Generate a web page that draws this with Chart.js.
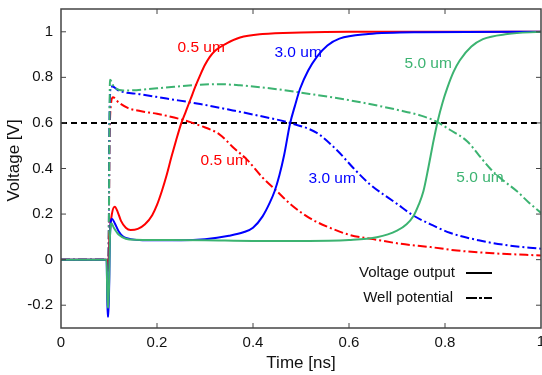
<!DOCTYPE html>
<html>
<head>
<meta charset="utf-8">
<script src="https://cdn.jsdelivr.net/npm/chart.js@4.4.1/dist/chart.umd.min.js"></script>
<style>
  html, body { margin: 0; padding: 0; background: #fff; }
  #wrap { width: 542px; height: 375px; position: relative; }
</style>
</head>
<body>
<div id="wrap"><canvas id="voltage-chart" width="542" height="375"></canvas></div>
<script>
// values, [time ns, voltage V]
var outputHalf = [[0, 0], [0.095, 0], [0.098, -0.05], [0.101, 0.1], [0.106, 0.2], [0.112, 0.232], [0.118, 0.21], [0.125, 0.17], [0.135, 0.14], [0.145, 0.13], [0.16, 0.135], [0.175, 0.155], [0.19, 0.195], [0.2, 0.24], [0.21, 0.3], [0.22, 0.37], [0.23, 0.45], [0.24, 0.525], [0.25, 0.595], [0.26, 0.65], [0.27, 0.705], [0.28, 0.76], [0.29, 0.81], [0.3, 0.855], [0.31, 0.89], [0.32, 0.915], [0.346, 0.95], [0.373, 0.975], [0.42, 0.99], [0.5, 0.997], [0.6, 1.0], [0.8, 1.0], [1.0, 1.0]];
var outputThree = [[0, 0], [0.095, 0], [0.097, -0.25], [0.099, -0.25], [0.102, 0.1], [0.106, 0.18], [0.112, 0.16], [0.12, 0.125], [0.13, 0.1], [0.145, 0.09], [0.17, 0.085], [0.25, 0.085], [0.3, 0.09], [0.35, 0.105], [0.38, 0.12], [0.4, 0.14], [0.42, 0.19], [0.435, 0.25], [0.445, 0.3], [0.455, 0.37], [0.465, 0.46], [0.477, 0.595], [0.488, 0.68], [0.498, 0.75], [0.515, 0.83], [0.533, 0.89], [0.555, 0.94], [0.58, 0.97], [0.64, 0.99], [0.75, 0.998], [1.0, 1.0]];
var outputFive = [[0, 0], [0.095, 0], [0.097, -0.21], [0.099, -0.21], [0.102, 0.1], [0.105, 0.16], [0.11, 0.14], [0.12, 0.11], [0.135, 0.092], [0.155, 0.087], [0.2, 0.086], [0.3, 0.085], [0.4, 0.082], [0.5, 0.082], [0.6, 0.086], [0.658, 0.098], [0.7, 0.127], [0.72, 0.155], [0.734, 0.19], [0.745, 0.24], [0.755, 0.3], [0.765, 0.4], [0.775, 0.51], [0.785, 0.61], [0.795, 0.69], [0.805, 0.755], [0.818, 0.825], [0.831, 0.875], [0.855, 0.935], [0.879, 0.968], [0.93, 0.99], [1.0, 1.0]];
var wellHalf = [[0, 0], [0.099, 0], [0.101, 0.5], [0.104, 0.68], [0.108, 0.713], [0.12, 0.69], [0.14, 0.665], [0.165, 0.652], [0.2, 0.64], [0.248, 0.617], [0.29, 0.588], [0.33, 0.55], [0.36, 0.49], [0.387, 0.44], [0.42, 0.36], [0.45, 0.3], [0.48, 0.24], [0.52, 0.18], [0.56, 0.14], [0.602, 0.108], [0.65, 0.09], [0.706, 0.07], [0.77, 0.055], [0.825, 0.04], [0.9, 0.028], [1.0, 0.018]];
var wellThree = [[0, 0], [0.099, 0], [0.101, 0.6], [0.104, 0.76], [0.107, 0.76], [0.12, 0.742], [0.165, 0.726], [0.22, 0.707], [0.29, 0.683], [0.358, 0.655], [0.42, 0.628], [0.477, 0.6], [0.533, 0.556], [0.575, 0.48], [0.61, 0.4], [0.644, 0.33], [0.7, 0.245], [0.733, 0.195], [0.77, 0.155], [0.81, 0.118], [0.87, 0.085], [0.93, 0.063], [1.0, 0.048]];
var wellFive = [[0, 0], [0.099, 0], [0.101, 0.6], [0.102, 0.79], [0.11, 0.76], [0.13, 0.742], [0.2, 0.752], [0.29, 0.768], [0.33, 0.77], [0.373, 0.765], [0.45, 0.748], [0.5, 0.733], [0.6, 0.7], [0.706, 0.655], [0.75, 0.632], [0.783, 0.605], [0.81, 0.57], [0.846, 0.52], [0.87, 0.46], [0.894, 0.4], [0.92, 0.35], [0.95, 0.3], [0.975, 0.25], [1.0, 0.205]];
var thresholdLine = [[0, 0.6], [1, 0.6]];

var xTickValues = [0, 0.2, 0.4, 0.6, 0.8, 1];
var yTickValues = [-0.2, 0, 0.2, 0.4, 0.6, 0.8, 1];

// curve labels: text, time, voltage, colour
var curveLabels = [
  ['0.5 um', 0.292, 0.932, '#ff0000'],
  ['3.0 um', 0.494, 0.906, '#0000ff'],
  ['5.0 um', 0.765, 0.858, '#3cb371'],
  ['0.5 um', 0.34, 0.433, '#ff0000'],
  ['3.0 um', 0.565, 0.354, '#0000ff'],
  ['5.0 um', 0.873, 0.359, '#3cb371']
];

var RED = '#ff0000';
var BLUE = '#0000ff';
var GREEN = '#3cb371';
var DASHDOT = [9, 3, 2, 3];
var FONT = '"Liberation Sans", Arial, sans-serif';

function toPoints(pairs) {
  return pairs.map(function (p) { return { x: p[0], y: p[1] }; });
}

function makeSet(pairs, color, dash) {
  return {
    data: toPoints(pairs),
    borderColor: color,
    borderWidth: 2,
    borderDash: dash || [],
    pointRadius: 0,
    fill: false,
    cubicInterpolationMode: 'monotone'
  };
}

// frame with inward ticks, labels on curves, legend and axis titles
var decorPlugin = {
  id: 'decor',
  afterDatasetsDraw: function (chart) {
    var ctx = chart.ctx;
    var a = chart.chartArea;
    var xs = chart.scales.x;
    var ys = chart.scales.y;
    ctx.save();
    ctx.strokeStyle = '#444';
    ctx.lineWidth = 1.5;
    ctx.setLineDash([]);
    ctx.strokeRect(a.left, a.top, a.right - a.left, a.bottom - a.top);
    ctx.lineWidth = 1;
    ctx.beginPath();
    for (var i = 1; i < xTickValues.length - 1; i++) {
      var px = xs.getPixelForValue(xTickValues[i]);
      ctx.moveTo(px, a.bottom); ctx.lineTo(px, a.bottom - 5);
      ctx.moveTo(px, a.top); ctx.lineTo(px, a.top + 5);
    }
    for (var j = 0; j < yTickValues.length; j++) {
      var py = ys.getPixelForValue(yTickValues[j]);
      ctx.moveTo(a.left, py); ctx.lineTo(a.left + 5, py);
      ctx.moveTo(a.right, py); ctx.lineTo(a.right - 5, py);
    }
    ctx.stroke();

    ctx.font = '15.5px ' + FONT;
    ctx.textAlign = 'center';
    ctx.textBaseline = 'middle';
    curveLabels.forEach(function (l) {
      ctx.fillStyle = l[3];
      ctx.fillText(l[0], xs.getPixelForValue(l[1]), ys.getPixelForValue(l[2]));
    });

    // legend
    ctx.fillStyle = '#111';
    ctx.textAlign = 'right';
    ctx.font = '15px ' + FONT;
    ctx.fillText('Voltage output', 455, 273);
    ctx.fillText('Well potential', 453, 298);
    ctx.strokeStyle = '#000';
    ctx.lineWidth = 2;
    ctx.beginPath();
    ctx.moveTo(466, 273); ctx.lineTo(492, 273);
    ctx.stroke();
    ctx.setLineDash([11, 2, 3, 2]);
    ctx.beginPath();
    ctx.moveTo(466, 298); ctx.lineTo(492, 298);
    ctx.stroke();
    ctx.setLineDash([]);

    // last x tick sits on the canvas edge, half cut like the original
    ctx.textAlign = 'center';
    ctx.font = '15px ' + FONT;
    ctx.fillText('1', xs.getPixelForValue(1), 342);

    // axis titles
    ctx.font = '17px ' + FONT;
    ctx.fillText('Time [ns]', (a.left + a.right) / 2, 363);
    ctx.translate(14.5, 160.5);
    ctx.rotate(-Math.PI / 2);
    ctx.fillText('Voltage [V]', 0, 0);
    ctx.restore();
  }
};

var thresholdSet = makeSet(thresholdLine, '#000', [6, 4]);
thresholdSet.cubicInterpolationMode = 'default';

var chartData = {
  datasets: [
    makeSet(outputFive, GREEN),
    makeSet(outputThree, BLUE),
    makeSet(outputHalf, RED),
    makeSet(wellFive, GREEN, DASHDOT),
    makeSet(wellThree, BLUE, DASHDOT),
    makeSet(wellHalf, RED, DASHDOT),
    thresholdSet
  ]
};

var voltageChart = new Chart(document.getElementById('voltage-chart'), {
  type: 'line',
  data: chartData,
  plugins: [decorPlugin],
  options: {
    responsive: false,
    animation: false,
    layout: { autoPadding: false, padding: { top: 9, right: 1, left: 0, bottom: 0 } },
    plugins: { legend: { display: false }, tooltip: { enabled: false } },
    scales: {
      x: {
        type: 'linear',
        min: 0,
        max: 1,
        grid: { display: false, drawTicks: false },
        border: { display: false },
        afterBuildTicks: function (scale) {
          scale.ticks = xTickValues.map(function (v) { return { value: v }; });
        },
        afterFit: function (scale) {
          scale.height = 47;
          scale.paddingLeft = 0;
          scale.paddingRight = 0;
        },
        ticks: {
          padding: 6,
          color: '#111',
          font: { family: FONT, size: 15 },
          maxRotation: 0,
          callback: function (v) { return v === 1 ? '' : String(v); }
        }
      },
      y: {
        min: -0.3,
        max: 1.1,
        grid: { display: false, drawTicks: false },
        border: { display: false },
        afterBuildTicks: function (scale) {
          scale.ticks = yTickValues.map(function (v) { return { value: v }; });
        },
        afterFit: function (scale) {
          scale.width = 61;
          scale.paddingTop = 0;
          scale.paddingBottom = 0;
        },
        ticks: {
          padding: 8,
          color: '#111',
          font: { family: FONT, size: 15 },
          callback: function (v) { return String(Math.round(v * 10) / 10); }
        }
      }
    }
  }
});
</script>
</body>
</html>
